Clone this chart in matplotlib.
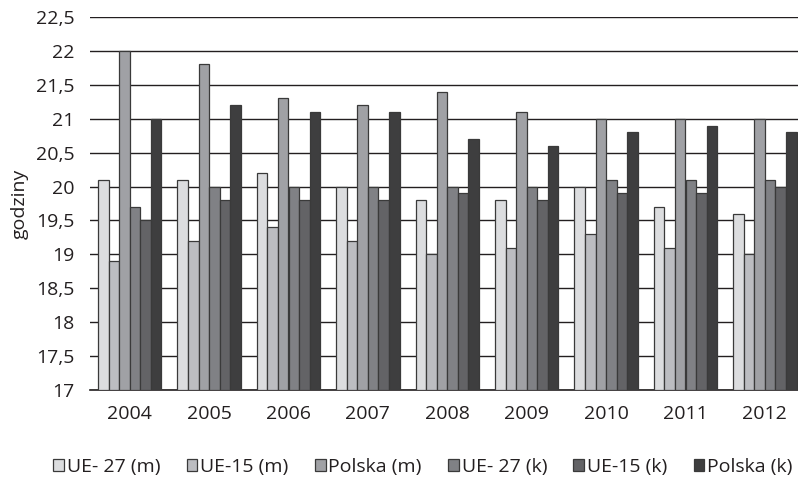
import matplotlib
matplotlib.use("Agg")
import matplotlib.pyplot as plt
import numpy as np

plt.rcParams['font.family'] = ['Open Sans', 'DejaVu Sans']

years = ['2004', '2005', '2006', '2007', '2008', '2009', '2010', '2011', '2012']
series_names = ['UE- 27 (m)', 'UE-15 (m)', 'Polska (m)', 'UE- 27 (k)', 'UE-15 (k)', 'Polska (k)']
ue27_m = [20.1, 20.1, 20.2, 20.0, 19.8, 19.8, 20.0, 19.7, 19.6]
ue15_m = [18.9, 19.2, 19.4, 19.2, 19.0, 19.1, 19.3, 19.1, 19.0]
polska_m = [22.0, 21.8, 21.3, 21.2, 21.4, 21.1, 21.0, 21.0, 21.0]
ue27_k = [19.7, 20.0, 20.0, 20.0, 20.0, 20.0, 20.1, 20.1, 20.1]
ue15_k = [19.5, 19.8, 19.8, 19.8, 19.9, 19.8, 19.9, 19.9, 20.0]
polska_k = [21.0, 21.2, 21.1, 21.1, 20.7, 20.6, 20.8, 20.9, 20.8]
series = [ue27_m, ue15_m, polska_m, ue27_k, ue15_k, polska_k]
colors = ['#DCDDDF', '#BCBDC1', '#A0A1A5', '#808185', '#636366', '#3E3E3F']

ymin, ymax = 17, 22.5

fig = plt.figure(figsize=(7.98, 4.8), dpi=100)
ax = fig.add_axes([90/798, 1-390/480, 9*79.4/798, (390-17)/480])

x = np.arange(len(years))
n = len(series)
group = 0.8
w = group / n
for i, (vals, c, name) in enumerate(zip(series, colors, series_names)):
    pos = x - group/2 + w*(i + 0.5)
    heights = np.array(vals) - ymin
    ax.bar(pos, heights, width=w, bottom=ymin, color=c, edgecolor='#3a3a3a',
           linewidth=0.9, label=name, zorder=3)

ax.set_xlim(-0.5, len(years) - 0.5)
ax.set_ylim(ymin, ymax)
ax.set_yticks(np.arange(17, 22.51, 0.5))
ax.set_yticklabels([('%g' % v).replace('.', ',') for v in np.arange(17, 22.51, 0.5)])
ax.set_xticks(x)
ax.set_xticklabels(years)
ax.tick_params(axis='both', labelsize=14, colors='#231f20', length=0)
ax.tick_params(axis='y', pad=11)
ax.tick_params(axis='x', pad=11)
ax.yaxis.grid(True, color='#231f20', linewidth=1.0, zorder=0)
ax.set_axisbelow(True)
for s in ['top', 'right', 'left']:
    ax.spines[s].set_visible(False)
ax.spines['bottom'].set_color('#231f20')
ax.spines['bottom'].set_linewidth(1.2)
ax.set_ylabel('godziny', fontsize=14, color='#231f20', labelpad=5)

handles, labels = ax.get_legend_handles_labels()
fig.legend(handles, labels, loc='center', bbox_to_anchor=(423/798, 1-467/480), ncol=6,
           frameon=False, fontsize=14, handlelength=0.55, handleheight=0.55,
           handletextpad=0.15, columnspacing=1.35, labelcolor='#231f20')

fig.savefig('out.png', dpi=100)
